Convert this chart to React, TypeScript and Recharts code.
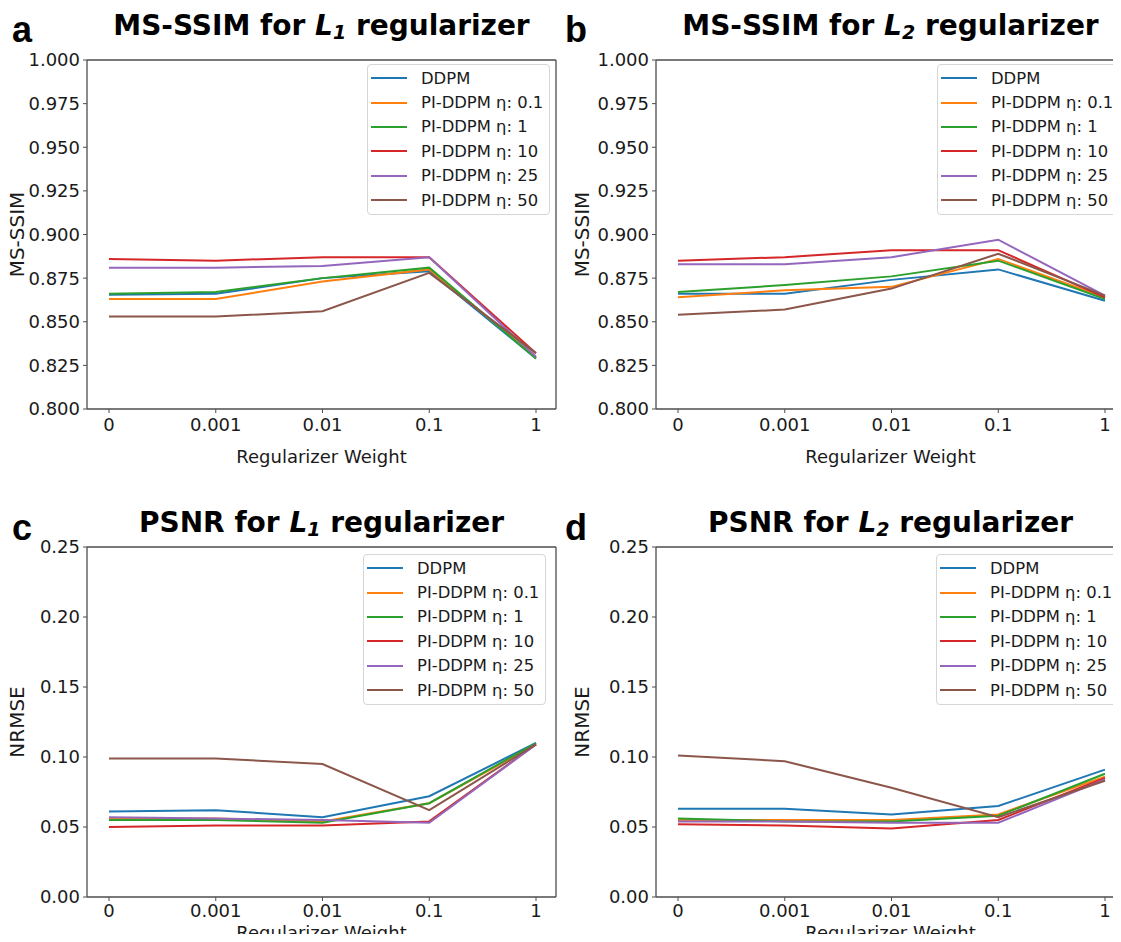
import React from 'react';
import { LineChart, Line, XAxis, YAxis, Legend, CartesianGrid } from 'recharts';

const FONT = '"DejaVu Sans", Verdana, sans-serif';
const AXIS = '#4d4d4d';

const weightLabels = ['0', '0.001', '0.01', '0.1', '1'];
const seriesNames = ['DDPM', 'PI-DDPM η: 0.1', 'PI-DDPM η: 1', 'PI-DDPM η: 10', 'PI-DDPM η: 25', 'PI-DDPM η: 50'];
const seriesColors = ['#1f77b4', '#ff7f0e', '#2ca02c', '#d62728', '#9467bd', '#8c564b'];

// one row per series, in the order of seriesNames
const ssimL1 = [
	[0.8655, 0.866, 0.875, 0.879, 0.829],
	[0.863, 0.863, 0.873, 0.88, 0.83],
	[0.866, 0.867, 0.875, 0.881, 0.829],
	[0.886, 0.885, 0.887, 0.887, 0.832],
	[0.881, 0.881, 0.882, 0.887, 0.83],
	[0.853, 0.853, 0.856, 0.878, 0.832],
];
const ssimL2 = [
	[0.866, 0.866, 0.874, 0.88, 0.862],
	[0.864, 0.868, 0.87, 0.886, 0.864],
	[0.867, 0.871, 0.876, 0.885, 0.863],
	[0.885, 0.887, 0.891, 0.891, 0.864],
	[0.883, 0.883, 0.887, 0.897, 0.865],
	[0.854, 0.857, 0.869, 0.889, 0.865],
];
const nrmseL1 = [
	[0.061, 0.062, 0.057, 0.072, 0.11],
	[0.056, 0.056, 0.054, 0.067, 0.109],
	[0.055, 0.055, 0.053, 0.067, 0.11],
	[0.05, 0.051, 0.051, 0.054, 0.109],
	[0.057, 0.056, 0.055, 0.053, 0.109],
	[0.099, 0.099, 0.095, 0.062, 0.109],
];
const nrmseL2 = [
	[0.063, 0.063, 0.059, 0.065, 0.091],
	[0.055, 0.055, 0.055, 0.059, 0.086],
	[0.056, 0.054, 0.054, 0.058, 0.088],
	[0.052, 0.051, 0.049, 0.055, 0.085],
	[0.054, 0.054, 0.053, 0.053, 0.084],
	[0.101, 0.097, 0.078, 0.057, 0.083],
];

const ssimTicks = [0.8, 0.825, 0.85, 0.875, 0.9, 0.925, 0.95, 0.975, 1.0];
const nrmseTicks = [0, 0.05, 0.1, 0.15, 0.2, 0.25];

const buildRows = (values) =>
	weightLabels.map((w, i) => {
		const row = { w };
		values.forEach((s, k) => {
			row['s' + k] = s[i];
		});
		return row;
	});

const renderLegend = (props) => {
	const { payload } = props;
	return (
		<div
			style={{
				width: 183,
				boxSizing: 'border-box',
				border: '1px solid #d6d6d6',
				borderRadius: 4,
				background: 'rgba(255,255,255,0.85)',
				padding: '1px 3px 2px 3px',
				fontFamily: FONT,
				fontSize: 16.4,
				color: '#1a1a1a',
			}}
		>
			{payload.map((entry) => (
				<div key={entry.value} style={{ display: 'flex', alignItems: 'center', height: 24.4 }}>
					<span style={{ width: 36, height: 2, background: entry.color, marginRight: 14, flexShrink: 0 }} />
					<span style={{ whiteSpace: 'nowrap' }}>{entry.value}</span>
				</div>
			))}
		</div>
	);
};

// top and right spines of the matplotlib-style box
const topSpine = ({ offset }) => [offset.top];
const rightSpine = ({ offset }) => [offset.left + offset.width];

const Panel = ({ p }) => {
	const data = buildRows(p.values);
	const plotLeft = p.yAxisWidth;
	const plotRight = p.width - p.marginRight;
	return (
		<div style={{ position: 'absolute', left: p.left, top: p.top, width: p.width, height: p.height }}>
			<div
				style={{
					position: 'absolute',
					left: p.letterLeft,
					top: p.letterTop,
					fontFamily: '"Liberation Sans", Arial, sans-serif',
					fontWeight: 'bold',
					fontSize: 36,
					lineHeight: '36px',
				}}
			>
				{p.letter}
			</div>
			<div
				style={{
					position: 'absolute',
					left: plotLeft,
					width: plotRight - plotLeft,
					top: p.titleTop,
					textAlign: 'center',
					fontFamily: FONT,
					fontWeight: 'bold',
					fontSize: 28,
					lineHeight: '28px',
					whiteSpace: 'nowrap',
				}}
			>
				{p.titlePrefix} for{' '}
				<i>
					L<sub style={{ fontSize: '0.68em', verticalAlign: '-0.22em', lineHeight: 0 }}>{p.norm}</sub>
				</i>{' '}
				regularizer
			</div>
			<LineChart
				width={p.width}
				height={p.height}
				data={data}
				margin={{ top: p.marginTop, right: p.marginRight, left: 0, bottom: 1 }}
				style={{ position: 'absolute', left: 0, top: 0 }}
			>
				<CartesianGrid
					stroke={AXIS}
					strokeWidth={1.3}
					horizontalCoordinatesGenerator={topSpine}
					verticalCoordinatesGenerator={rightSpine}
				/>
				<XAxis
					dataKey="w"
					type="category"
					interval={0}
					padding={{ left: 22, right: 20 }}
					height={p.xAxisHeight}
					tickSize={4}
					tickMargin={p.xTickMargin}
					axisLine={{ stroke: AXIS, strokeWidth: 1.3 }}
					tickLine={{ stroke: AXIS }}
					tick={{ fill: '#1a1a1a', fontSize: 18, fontFamily: FONT }}
					label={{
						value: 'Regularizer Weight',
						position: 'insideBottom',
						offset: p.xLabelOffset,
						style: { fill: '#1a1a1a', fontSize: 18, fontFamily: FONT },
					}}
				/>
				<YAxis
					type="number"
					domain={[p.ticks[0], p.ticks[p.ticks.length - 1]]}
					ticks={p.ticks}
					interval={0}
					width={p.yAxisWidth}
					tickSize={4}
					tickMargin={3}
					tickFormatter={(v) => v.toFixed(p.decimals)}
					axisLine={{ stroke: AXIS, strokeWidth: 1.3 }}
					tickLine={{ stroke: AXIS }}
					tick={{ fill: '#1a1a1a', fontSize: 18, fontFamily: FONT }}
					label={{
						value: p.yLabel,
						angle: -90,
						position: 'insideLeft',
						offset: p.yLabelOffset,
						style: { textAnchor: 'middle', fill: '#1a1a1a', fontSize: 20, fontFamily: FONT },
					}}
				/>
				{seriesNames.map((name, k) => (
					<Line
						key={name}
						type="linear"
						dataKey={'s' + k}
						name={name}
						stroke={seriesColors[k]}
						strokeWidth={2}
						dot={false}
						isAnimationActive={false}
					/>
				))}
				<Legend
					layout="vertical"
					align="center"
					verticalAlign="middle"
					wrapperStyle={{ left: p.legendLeft, top: p.legendTop, width: 183 }}
					content={renderLegend}
				/>
			</LineChart>
		</div>
	);
};

const panels = [
	{
		letter: 'a', titlePrefix: 'MS-SSIM', norm: '1', values: ssimL1, ticks: ssimTicks, decimals: 3, yLabel: 'MS-SSIM',
		left: 0, top: 0, width: 560, height: 470, marginTop: 60, marginRight: 4, yAxisWidth: 87,
		xAxisHeight: 60, xTickMargin: 5, xLabelOffset: 6, yLabelOffset: 17,
		legendLeft: 367, legendTop: 64, titleTop: 12, letterLeft: 12, letterTop: 12,
	},
	{
		letter: 'b', titlePrefix: 'MS-SSIM', norm: '2', values: ssimL2, ticks: ssimTicks, decimals: 3, yLabel: 'MS-SSIM',
		left: 560, top: 0, width: 570, height: 470, marginTop: 60, marginRight: 5, yAxisWidth: 96,
		xAxisHeight: 60, xTickMargin: 5, xLabelOffset: 6, yLabelOffset: 22,
		legendLeft: 377, legendTop: 64, titleTop: 12, letterLeft: 5, letterTop: 12,
	},
	{
		letter: 'c', titlePrefix: 'PSNR', norm: '1', values: nrmseL1, ticks: nrmseTicks, decimals: 2, yLabel: 'NRMSE',
		left: 0, top: 470, width: 560, height: 472, marginTop: 77, marginRight: 4, yAxisWidth: 87,
		xAxisHeight: 44, xTickMargin: 3, xLabelOffset: 2, yLabelOffset: 17,
		legendLeft: 363, legendTop: 84, titleTop: 39, letterLeft: 12, letterTop: 40,
	},
	{
		letter: 'd', titlePrefix: 'PSNR', norm: '2', values: nrmseL2, ticks: nrmseTicks, decimals: 2, yLabel: 'NRMSE',
		left: 560, top: 470, width: 570, height: 472, marginTop: 77, marginRight: 5, yAxisWidth: 96,
		xAxisHeight: 44, xTickMargin: 3, xLabelOffset: 2, yLabelOffset: 22,
		legendLeft: 376, legendTop: 84, titleTop: 39, letterLeft: 5, letterTop: 40,
	},
];

export default function App() {
	return (
		<div
			style={{
				position: 'relative',
				width: 1121,
				height: 942,
				margin: -8,
				overflow: 'hidden',
				background: '#fff',
				fontFamily: FONT,
				color: '#000',
			}}
		>
			{panels.map((p) => (
				<Panel key={p.letter} p={p} />
			))}
		</div>
	);
}
